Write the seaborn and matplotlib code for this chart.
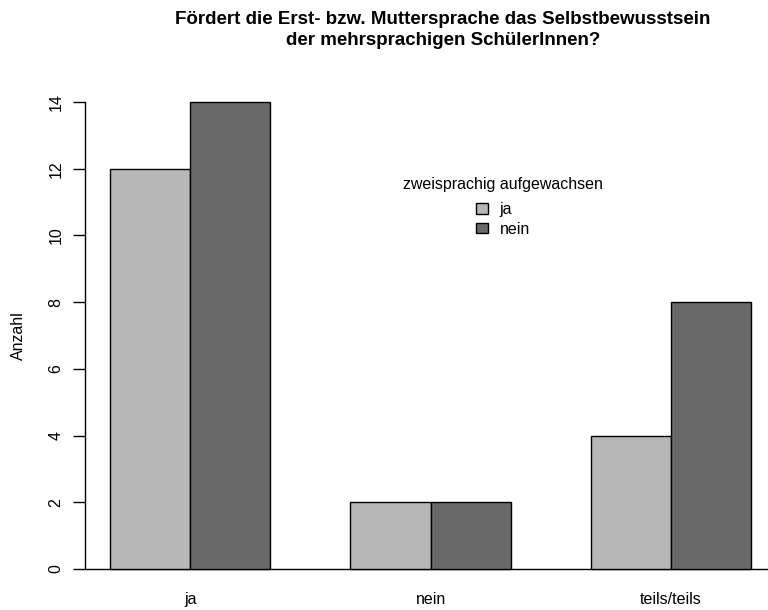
import pandas as pd
import matplotlib.pyplot as plt
import seaborn as sns

# data
antworten = ['ja', 'nein', 'teils/teils']
gruppen = ['ja', 'nein']
anzahl_ja = [12, 2, 4]
anzahl_nein = [14, 2, 8]
y_ticks = [0, 2, 4, 6, 8, 10, 12, 14]

df = pd.DataFrame({
    'Antwort': antworten * 2,
    'Gruppe': [gruppen[0]] * 3 + [gruppen[1]] * 3,
    'Anzahl': anzahl_ja + anzahl_nein,
})

sns.set_style('white')
plt.rcParams['font.family'] = ['Liberation Sans', 'DejaVu Sans']
plt.rcParams['text.color'] = 'black'
plt.rcParams['axes.labelcolor'] = 'black'
plt.rcParams['xtick.color'] = 'black'
plt.rcParams['ytick.color'] = 'black'

fs = 11.5

fig = plt.figure(figsize=(7.68, 6.10), dpi=100)
ax = fig.add_axes([85 / 768, 1 - 587.7 / 610, 1 - 85 / 768, (587.7 - 83.3) / 610])

sns.barplot(data=df, x='Antwort', y='Anzahl', hue='Gruppe', order=antworten,
            hue_order=gruppen, palette=['#B7B7B7', '#696969'], width=2 / 3,
            gap=0, edgecolor='black', linewidth=1, saturation=1, ax=ax)

ax.set_xlim(-0.437, 2.403)
ax.set_ylim(-0.56, 14.56)
ax.axhline(0, color='black', lw=1, zorder=0)

# R-style axes: only a left axis line from 0 to 14
for s in ['top', 'right', 'bottom']:
    ax.spines[s].set_visible(False)
ax.spines['left'].set_bounds(0, 14)
ax.spines['left'].set_color('black')
ax.spines['left'].set_linewidth(1)

ax.set_yticks(y_ticks)
ax.set_yticklabels([str(t) for t in y_ticks], rotation=90, va='center', fontsize=fs)
ax.tick_params(axis='y', left=True, length=8.5, width=1, color='black', pad=7)
ax.tick_params(axis='x', bottom=False, length=0, pad=3, labelsize=fs)
ax.set_xlabel('')
ax.set_ylabel('Anzahl', fontsize=fs, labelpad=16)

leg = ax.legend(title='zweisprachig aufgewachsen', frameon=False, fontsize=fs,
                title_fontsize=fs, loc='upper center', bbox_to_anchor=(0.612, 0.842),
                handlelength=0.75, handleheight=0.6, handletextpad=0.7, labelspacing=0.3)
leg._legend_box.sep = 7  # a bit more room below the legend title

fig.text(443 / 768, 1 - 11 / 610,
         'Fördert die Erst- bzw. Muttersprache das Selbstbewusstsein\nder mehrsprachigen SchülerInnen?',
         ha='center', va='top', fontsize=13.5, fontweight='bold', linespacing=1.33)

fig.savefig('out.png', dpi=100)
